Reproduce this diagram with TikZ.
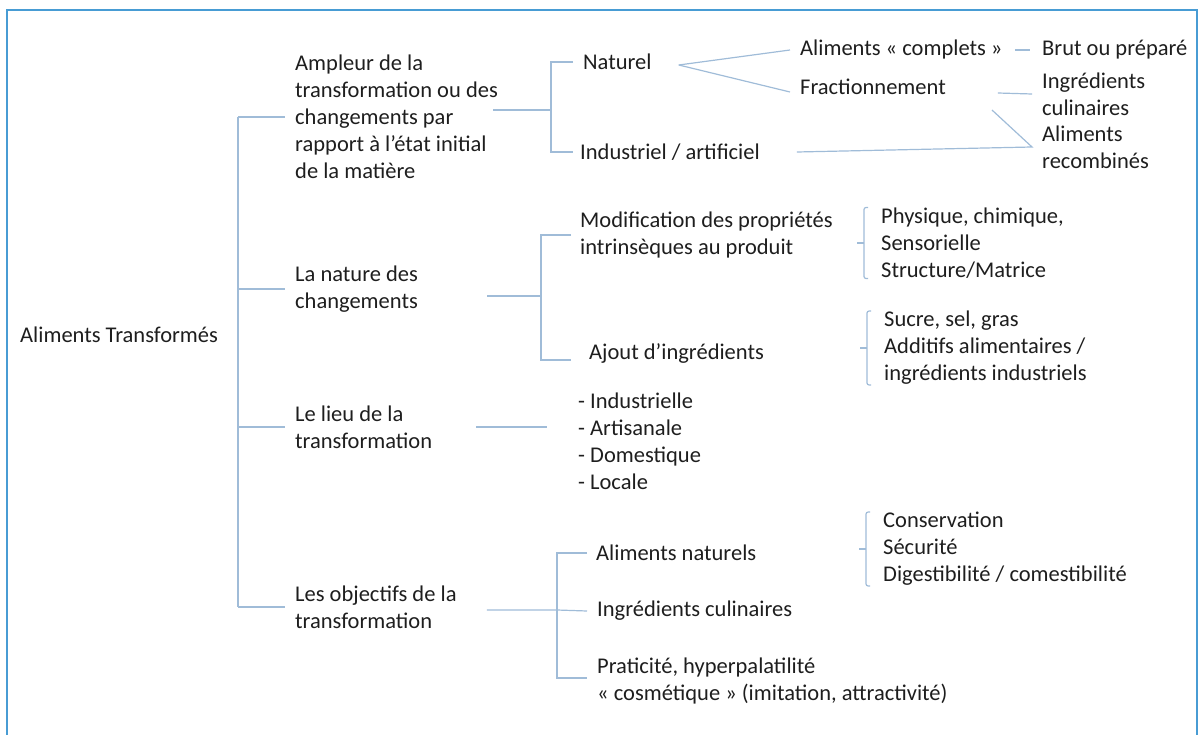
\documentclass[tikz,border=0pt]{standalone}
\usepackage{fontspec}
\setmainfont{Carlito}
\usetikzlibrary{calc}
\definecolor{linkblue}{RGB}{160,188,216}
\definecolor{frameblue}{RGB}{72,156,212}
\definecolor{inkgrey}{RGB}{30,30,30}

\begin{document}
\begin{tikzpicture}[x=1pt,y=-1pt,
  txt/.style={anchor=west,inner sep=0pt,align=left,text=inkgrey,font=\fontsize{22.5}{27}\selectfont},
  link/.style={draw=linkblue,line width=1.2pt},
  bracket/.style={draw=linkblue,line width=1.2pt,rounded corners=2pt}]
\useasboundingbox (0,0) rectangle (1201,735);
\draw[frameblue,line width=2.5pt] (7,735) |- (1197,10) -- (1197,735);

\node[txt] (root) at (20,335) {Aliments Transformés};
\node[txt] (amp) at (295,117) {Ampleur de la\\transformation ou des\\changements par\\rapport à l’état initial\\de la matière};
\node[txt] (nat) at (295,289) {La nature des\\changements};
\node[txt] (lieu) at (295,427) {Le lieu de la\\transformation};
\node[txt] (obj) at (295,607) {Les objectifs de la\\transformation};

\node[txt] (naturel) at (583,62) {Naturel};
\node[txt] (indus) at (580,152) {Industriel / artificiel};
\node[txt] (complets) at (800,50) {Aliments « complets »};
\node[txt] (fraction) at (800,87) {Fractionnement};
\node[txt] (brut) at (1042,50) {Brut ou préparé};
\node[txt] (ingcul) at (1042,94) {Ingrédients\\culinaires};
\node[txt] (recomb) at (1042,147) {Aliments\\recombinés};

\node[txt] (modif) at (580,235) {Modification des propriétés\\intrinsèques au produit};
\node[txt] (ajout) at (589,353) {Ajout d’ingrédients};
\node[txt] (phys) at (881,243) {Physique, chimique,\\Sensorielle\\Structure/Matrice};
\node[txt] (sucre) at (884,348) {Sucre, sel, gras\\Additifs alimentaires /\\ingrédients industriels};

\node[txt] (lieux) at (578,441) {- Industrielle\\- Artisanale\\- Domestique\\- Locale};

\node[txt] (alnat) at (596,553) {Aliments naturels};
\node[txt] (ingred) at (597,611) {Ingrédients culinaires};
\node[txt] (prat) at (597,681) {Praticité, hyperpalatilité\\« cosmétique » (imitation, attractivité)};
\node[txt] (conserv) at (883,549) {Conservation\\Sécurité\\Digestibilité / comestibilité};

\coordinate (bar1) at (238,0);
\coordinate (bar2) at (551,110);
\coordinate (bar3) at (541,296);
\coordinate (bar4) at (557,610);

% main tree
\draw[link] (bar1 |- amp.west) -- (bar1 |- obj.west);
\foreach \n in {amp,nat,lieu,obj}
  \draw[link] (bar1 |- \n.west) -- ([xshift=-10pt]\n.west);

% ampleur
\draw[link] ([xshift=-5pt,yshift=7pt]amp.east) -- (bar2);
\draw[link] ([xshift=-10pt]naturel.west) -| (bar2) |- ([xshift=-7pt]indus.west);
\coordinate (nfork) at ([xshift=27pt,yshift=-3pt]naturel.east);
\draw[link] (nfork) -- ([xshift=-10pt]complets.west);
\draw[link] (nfork) -- ([xshift=-10pt,yshift=-5pt]fraction.west);
\draw[link] ([xshift=12pt]complets.east) -- ([xshift=-12pt]brut.west);
\draw[link] ([xshift=52pt,yshift=-6pt]fraction.east) -- ([xshift=-10pt]ingcul.west);
\coordinate (rfork) at ([xshift=-10pt]recomb.west);
\draw[link] ([xshift=37pt]indus.east) -- (rfork) -- ([xshift=46pt,yshift=-23pt]fraction.east);

% nature
\draw[link] ([xshift=69pt,yshift=-7pt]nat.east) -- (bar3);
\draw[link] ([xshift=-9pt]modif.west) -| (bar3) |- ([xshift=-18pt,yshift=-7pt]ajout.west);
\foreach \b in {phys,sucre,conserv} {
  \draw[bracket] ([xshift=-13pt]\b.north west) -- ([xshift=-17pt]\b.north west)
    -- ([xshift=-17pt]\b.south west) -- ([xshift=-13pt]\b.south west);
  \draw[link] ([xshift=-17pt]\b.west) -- ([xshift=-24pt]\b.west);
}

% lieu
\draw[link] ([xshift=44pt]lieu.east) -- ($(lieux.west |- lieu.east)+(-31,0)$);

% objectifs
\draw[link] ([xshift=30pt,yshift=-3pt]obj.east) -- (bar4) -- ([xshift=-10pt]ingred.west);
\draw[link] ([xshift=-9pt]alnat.west) -| (bar4) |- ([xshift=-10pt,yshift=3pt]prat.west);
\end{tikzpicture}
\end{document}
